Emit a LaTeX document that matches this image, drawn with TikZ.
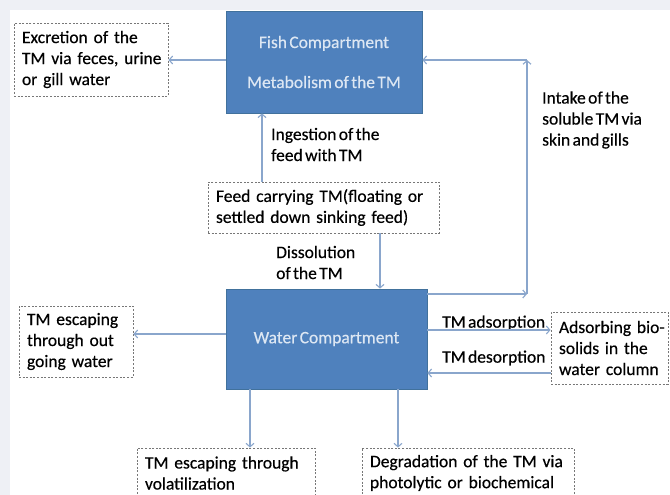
\documentclass[tikz,border=0pt]{standalone}
\usepackage{fontspec}
\setmainfont{Carlito}[FakeBold=0.4, WordSpace=0.6]
\usetikzlibrary{arrows.meta}
\definecolor{bggray}{HTML}{EEF0F5}
\definecolor{boxblue}{HTML}{4F81BD}
\definecolor{boxedge}{HTML}{41719C}
\definecolor{boxtext}{HTML}{DDE7F3}
\definecolor{arrowblue}{HTML}{8AA6CC}
\definecolor{dashgray}{HTML}{777777}
\newcommand{\dfont}{\fontsize{17.5}{21}\selectfont}
\newcommand{\nw}[1]{\mbox{#1}}
\begin{document}
\begin{tikzpicture}[x=1pt,y=-1pt,
  dbox/.style={draw=dashgray, dash pattern=on 2pt off 1.6pt, line width=0.9pt,
    align=left, font=\dfont, inner xsep=8pt, inner ysep=0pt, text=black},
  bluebox/.style={draw=boxedge, fill=boxblue, line width=0.8pt, align=center,
    font=\dfont, text=boxtext, inner sep=0pt},
  lbl/.style={font=\dfont, align=left, anchor=west, inner sep=0pt, text=black},
  arr/.style={draw=arrowblue, line width=1.1pt,
    -{Straight Barb[length=3.5pt,width=8pt]}}]
\useasboundingbox (0,0) rectangle (670,495);
\clip (0,0) rectangle (670,495);
\fill[bggray] (0,0) rectangle (670,495);
\fill[white] (10,10.5) rectangle (670,495);

% blue compartments
\node[bluebox, minimum width=196pt, minimum height=102pt] (fish) at (324,62)
  {Fish Compartment\\[19pt]Metabolism of the TM};
\node[bluebox, minimum width=201pt, minimum height=100pt] (water) at (326.5,339)
  {Water Compartment};

% dashed boxes
\node[dbox, text width=138pt, minimum height=73pt] (excr) at (91,59.5)
  {\nw{Excretion of the}\\\nw{TM via feces, urine}\\\nw{or gill water}};
\node[dbox, text width=215pt, minimum height=51pt] (feed) at (323.5,207.5)
  {\nw{Feed carrying TM(floating or}\\\nw{settled down sinking feed)}};
\node[dbox, text width=98pt, minimum height=71pt] (out) at (76,341.5)
  {\nw{TM escaping}\\\nw{through out}\\\nw{going water}};
\node[dbox, text width=101pt, minimum height=72pt] (ads) at (609.5,348)
  {\nw{Adsorbing bio-}\\\nw{solids in the}\\\nw{water column}};
\node[dbox, text width=162pt, minimum height=50pt] (vol) at (226,473)
  {\nw{TM escaping through}\\\nw{volatilization}};
\node[dbox, text width=196pt, minimum height=50pt] (deg) at (468,473)
  {\nw{Degradation of the TM via}\\\nw{photolytic or biochemical}};

% labels
\node[lbl] (lIng) at (271,144.5) {Ingestion of the\\feed with TM};
\node[lbl] (lDis) at (276,262.5) {Dissolution\\of the TM};
\node[lbl] (lInt) at (542,120) {Intake of the\\soluble TM via\\skin and gills};
\node[lbl] (lAds) at (442,323) {TM adsorption};
\node[lbl] (lDes) at (442,358) {TM desorption};

% helper coordinates
\coordinate (xIng) at (262,0);
\coordinate (xDis) at (380,0);
\coordinate (cLow) at (527,294);
\coordinate (cHigh) at (527,60);
\coordinate (yOut) at (0,334);
\coordinate (yAds) at (0,330);
\coordinate (yDes) at (0,373);
\coordinate (xVol) at (250,0);
\coordinate (xDeg) at (398,0);

% connectors
\draw[arr] (fish.west |- cHigh) -- (excr.east |- cHigh);
\draw[arr] (feed.north -| xIng) -- (fish.south -| xIng);
\draw[arr] (feed.south -| xDis) -- (water.north -| xDis);
\draw[arr] (water.east |- cLow) -- (cLow);
\draw[arr] (cLow) -- (cHigh);
\draw[arr] (cHigh) -- (fish.east |- cHigh);
\draw[arr] (water.west |- yOut) -- (out.east |- yOut);
\draw[arr] (water.east |- yAds) -- (ads.west |- yAds);
\draw[arr] (ads.west |- yDes) -- (water.east |- yDes);
\draw[arr] (water.south -| xVol) -- (vol.north -| xVol);
\draw[arr] (water.south -| xDeg) -- (deg.north -| xDeg);
\end{tikzpicture}
\end{document}
